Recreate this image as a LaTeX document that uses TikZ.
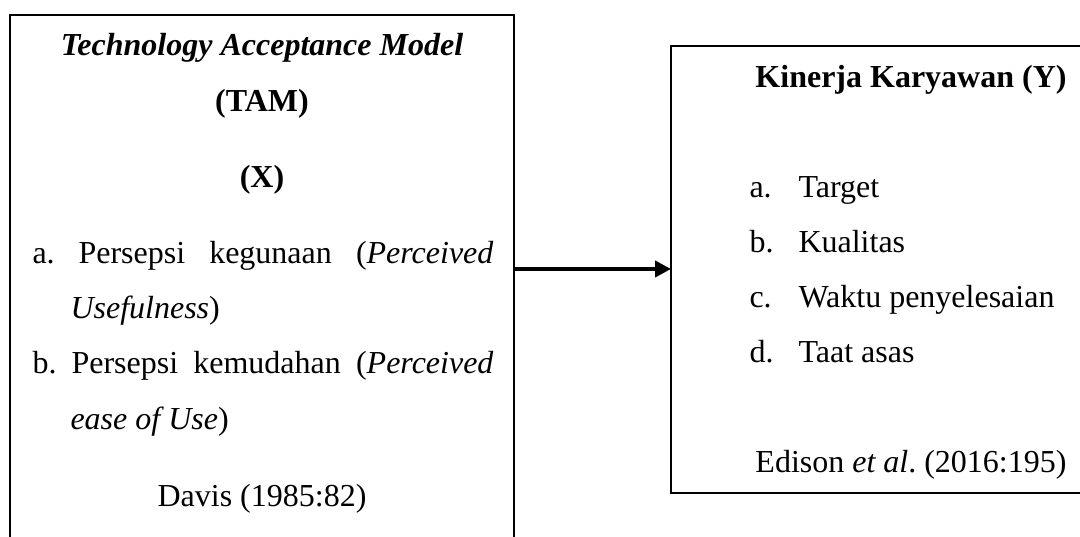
\documentclass[tikz,border=0pt]{standalone}
\usepackage{fontspec}
\setmainfont{Liberation Serif}
\usetikzlibrary{arrows.meta}
\frenchspacing

\begin{document}
\begin{tikzpicture}[x=0.375pt,y=-0.375pt,
    box/.style={draw,line width=0.9pt,rectangle,inner sep=0pt,outer sep=0pt,anchor=north west},
    txt/.style={anchor=base,inner sep=0pt,font=\fontsize{12}{14}\selectfont},
    item/.style={txt,anchor=base west},
    arr/.style={-{Triangle[length=6pt,width=6pt]},line width=1.8pt}]
    \path[use as bounding box,clip] (0,0) rectangle (1080,537);
    % boxes
    \node[box,minimum width=189pt,minimum height=225pt] (tam) at (10,15) {};
    \node[box,minimum width=200pt,minimum height=167.6pt] (kinerja) at (671,46) {};
    % left box
    \node[txt] (title) at (262,56) {\textbf{\textit{Technology Acceptance Model}}};
    \node[txt] (tamlbl) at (262,112) {\textbf{(TAM)}};
    \node[txt] (xlbl) at (262,188) {\textbf{(X)}};
    \node[item] (a1) at (32,264) {a.};
    \node[item] (a1t) at (78,264) {\makebox[155.6pt][s]{Persepsi kegunaan (\textit{Perceived}}};
    \node[item] (a2) at (70,319) {\textit{Usefulness})};
    \node[item] (b1) at (32,374) {b.};
    \node[item] (b1t) at (71,374) {\makebox[158.25pt][s]{Persepsi kemudahan (\textit{Perceived}}};
    \node[item] (b2) at (70,430) {\textit{ease of Use})};
    \node[txt] (davis) at (262,507) {Davis (1985:82)};
    % right box
    \node[txt] (klbl) at (911,88) {\textbf{Kinerja Karyawan (Y)}};
    \foreach \l/\t/\y [count=\i] in {a./Target/198, b./Kualitas/253, c./Waktu penyelesaian/308, d./Taat asas/363} {
        \node[item] (kl\i) at (749,\y) {\l};
        \node[item] (kt\i) at (798,\y) {\t};
    }
    \node[txt] (edison) at (911,473) {Edison \textit{et al}. (2016:195)};
    % arrow
    \coordinate (mid) at (0,269);
    \draw[arr] (tam.east |- mid) -- (kinerja.west |- mid);
\end{tikzpicture}
\end{document}
